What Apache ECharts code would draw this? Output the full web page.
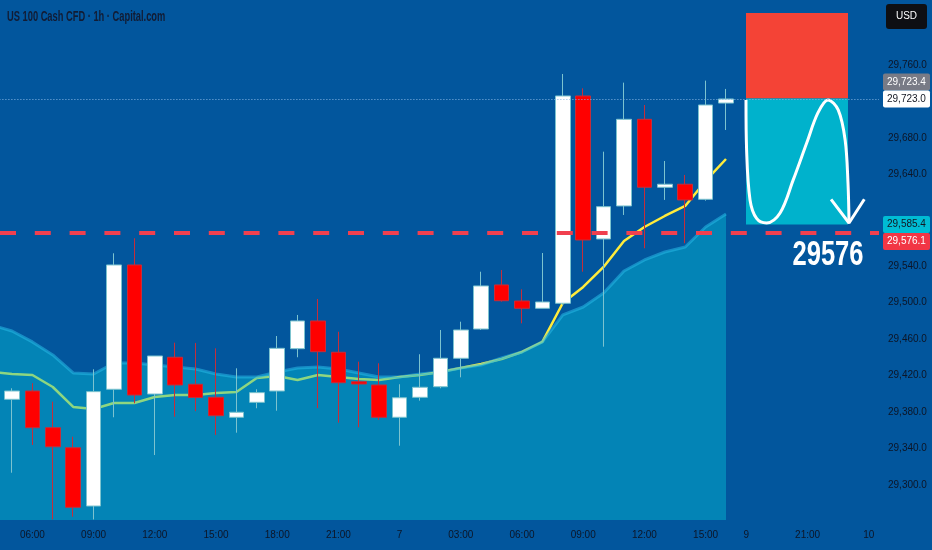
<!DOCTYPE html>
<html>
<head>
<meta charset="utf-8">
<script src="https://cdn.jsdelivr.net/npm/echarts@6.0.0/dist/echarts.min.js"></script>
<style>
  html, body { margin: 0; padding: 0; background: #02569d; }
  #main { width: 932px; height: 550px; }
</style>
</head>
<body>
<div id="main"></div>
<script>
// 每根 K 线 = 1 小时，周末之后从 9 日 18:00 继续
const categories = [
  '6 04:00', '6 05:00', '6 06:00', '6 07:00', '6 08:00', '6 09:00', '6 10:00', '6 11:00',
  '6 12:00', '6 13:00', '6 14:00', '6 15:00', '6 16:00', '6 17:00', '6 18:00', '6 19:00',
  '6 20:00', '6 21:00', '6 22:00', '6 23:00', '7 00:00', '7 01:00', '7 02:00', '7 03:00',
  '7 04:00', '7 05:00', '7 06:00', '7 07:00', '7 08:00', '7 09:00', '7 10:00', '7 11:00',
  '7 12:00', '7 13:00', '7 14:00', '7 15:00', '7 16:00', '9 18:00', '9 19:00', '9 20:00',
  '9 21:00', '9 22:00', '9 23:00', '10 00:00'
];
const tickLabels = [
  '', '', '06:00', '', '', '09:00', '', '', '12:00', '', '', '15:00', '', '', '18:00', '',
  '', '21:00', '', '', '7', '', '', '03:00', '', '', '06:00', '', '', '09:00', '', '',
  '12:00', '', '', '15:00', '', '9', '', '', '21:00', '', '', '10'
];

const opens = [null,
  29393.7, 29402.8, 29362.6, 29340.6, 29276.7, 29404.7, 29541.0, 29399.5, 29439.8, 29410.2,
  29395.9, 29374.0, 29390.4, 29402.8, 29449.2, 29479.6, 29445.3, 29413.0, 29409.4, 29374.0,
  29395.9, 29407.5, 29438.7, 29470.8, 29519.1, 29501.5, 29493.5, 29499.0, 29726.3, 29569.5,
  29605.7, 29700.7, 29626.2, 29629.5, 29613.0, 29718.5];
const closes = [null,
  29402.8, 29362.6, 29341.7, 29275.3, 29402.1, 29541.0, 29398.4, 29441.2, 29409.4, 29395.7,
  29375.7, 29379.5, 29401.0, 29449.6, 29479.6, 29445.9, 29411.9, 29410.5, 29374.0, 29395.4,
  29406.9, 29438.7, 29469.7, 29518.0, 29501.8, 29493.5, 29500.4, 29726.3, 29568.4, 29604.9,
  29700.7, 29626.2, 29629.5, 29612.3, 29716.4, 29723.0];
const lows = [null,
  29313.2, 29343.6, 29262.0, 29265.0, 29262.0, 29374.0, 29389.3, 29332.6, 29374.6, 29380.7,
  29354.6, 29357.1, 29383.9, 29381.2, 29439.8, 29383.9, 29368.1, 29363.0, 29371.0, 29342.8,
  29392.2, 29405.8, 29417.8, 29469.7, 29500.7, 29477.0, 29493.5, 29497.0, 29533.6, 29451.4,
  29595.8, 29559.3, 29612.3, 29564.8, 29611.5, 29689.0];
const highs = [null,
  29405.8, 29411.3, 29391.1, 29352.7, 29426.6, 29553.8, 29570.3, 29441.2, 29455.8, 29455.5,
  29449.6, 29427.7, 29404.7, 29463.1, 29486.2, 29503.7, 29467.8, 29435.0, 29433.2, 29410.2,
  29443.1, 29469.7, 29478.8, 29533.6, 29535.5, 29514.3, 29554.1, 29750.4, 29734.7, 29665.2,
  29740.9, 29716.4, 29655.0, 29639.7, 29743.1, 29734.0];

// 均线（黄色）与下方的区域指标
const maValues = [
  29423.7, 29421.5, 29420.4, 29407.2, 29385.3, 29383.1, 29389.7, 29389.7, 29396.2, 29398.4,
  29398.4, 29400.6, 29401.7, 29417.1, 29419.3, 29414.9, 29420.4, 29418.2, 29416.0, 29414.9,
  29418.2, 29420.4, 29423.7, 29428.0, 29432.4, 29437.9, 29445.6, 29456.6, 29499.3, 29516.9,
  29538.8, 29567.3, 29582.6, 29594.7, 29605.7, 29633.1, 29657.2];
const bandValues = [
  29475.2, 29468.6, 29456.6, 29442.3, 29422.6, 29421.5, 29433.5, 29433.5, 29431.3, 29429.1,
  29426.9, 29421.5, 29418.2, 29418.2, 29423.7, 29428.0, 29429.1, 29426.9, 29422.6, 29418.2,
  29418.2, 29421.5, 29423.7, 29428.0, 29431.3, 29439.0, 29445.6, 29456.6, 29486.2, 29494.9,
  29510.3, 29534.4, 29546.5, 29555.2, 29560.7, 29582.6, 29596.9];
const bandFloor = 29261.4;

const yTickLabels = [29300, 29340, 29380, 29420, 29460, 29500, 29540, 29640, 29680, 29760];
const yMin = 29260, yMax = 29820;

const lastPrice = 29723.0;
const markPrice = 29723.4;
const dashedLevel = 29576.1;

// 空单工具：止损 / 入场 / 目标
const stopPrice = 29817.3, entryPrice = 29723.4, targetPrice = 29585.4;
const toolStart = 36.98, toolEnd = 41.98;
const curvePoints = [
  [36.98, 29722], [37.01, 29667], [37.18, 29612], [37.5, 29592], [37.99, 29587],
  [38.65, 29598], [39.29, 29634], [39.96, 29675], [40.51, 29708], [41.0, 29722],
  [41.5, 29711], [41.84, 29678], [41.98, 29631], [42.03, 29588]
];
const arrowPoints = [[41.15, 29613], [42.03, 29587], [42.78, 29613]];
const bigLabel = '29576';
const bigLabelAt = [41.0, 29552];

const fontFam = "'Liberation Sans', Arial, sans-serif";

function fmt(v) {
  const s = v.toFixed(1).split('.');
  return s[0].replace(/\B(?=(\d{3})+(?!\d))/g, ',') + '.' + s[1];
}

var myChart = echarts.init(document.getElementById('main'));

const candleData = categories.map((c, i) =>
  opens[i] == null ? '-' : [opens[i], closes[i], lows[i], highs[i]]);

myChart.setOption({
  animation: false,
  backgroundColor: '#02569d',
  grid: {
    left: -18.6, right: 53, top: 10.5, bottom: 28.75,
    containLabel: false,
    outerBoundsMode: 'none'
  },
  xAxis: [
    {
      type: 'category',
      data: categories,
      boundaryGap: true,
      axisLine: { show: false },
      axisTick: { show: false },
      splitLine: { show: false },
      axisLabel: {
        interval: 0,
        margin: 9,
        color: '#0d1526',
        fontSize: 10,
        fontFamily: fontFam,
        formatter: (v, i) => tickLabels[i]
      }
    },
    { type: 'value', min: -0.5, max: 43.5, show: false }
  ],
  yAxis: {
    type: 'value',
    position: 'right',
    min: yMin,
    max: yMax,
    interval: 20,
    splitLine: { show: false },
    axisTick: { show: false },
    axisLine: { show: true, lineStyle: { color: 'rgba(255,255,255,0.07)' } },
    axisLabel: {
      margin: 9,
      color: '#0d1526',
      fontSize: 10,
      fontFamily: fontFam,
      formatter: v => (yTickLabels.indexOf(v) >= 0 ? fmt(v) : '')
    }
  },
  series: [
    {
      name: 'MA',
      type: 'line',
      z: 1,
      data: maValues,
      showSymbol: false,
      lineStyle: { color: '#ffeb3b', width: 2.5 },
      markLine: {
        silent: true,
        symbol: ['none', 'none'],
        label: { show: false },
        data: [
          { yAxis: dashedLevel, lineStyle: { color: '#f0404f', type: [16, 18.8], dashOffset: 16.2, width: 4 } },
          { yAxis: lastPrice, lineStyle: { color: '#86b6e4', type: [1, 2], width: 1 } }
        ]
      }
    },
    {
      name: 'Band',
      type: 'line',
      z: 2,
      data: bandValues,
      showSymbol: false,
      lineStyle: { color: 'rgba(40,185,230,0.55)', width: 3 },
      areaStyle: { color: 'rgba(4,188,213,0.45)', origin: bandFloor, opacity: 1 }
    },
    {
      name: 'US100',
      type: 'candlestick',
      z: 3,
      data: candleData,
      barWidth: 15,
      itemStyle: {
        color: '#ffffff',
        color0: '#ff0000',
        borderColor: '#7cc3cf',
        borderColor0: '#c62d3a',
        borderWidth: 1
      }
    },
    {
      name: 'Tool',
      type: 'line',
      z: 4,
      xAxisIndex: 1,
      data: curvePoints,
      smooth: 0.35,
      showSymbol: false,
      lineStyle: { color: '#ffffff', width: 3 },
      markArea: {
        silent: true,
        data: [
          [{ xAxis: toolStart, yAxis: stopPrice, itemStyle: { color: '#f44336', opacity: 1 } },
           { xAxis: toolEnd, yAxis: entryPrice }],
          [{ xAxis: toolStart, yAxis: entryPrice, itemStyle: { color: '#00b2cc', opacity: 1 } },
           { xAxis: toolEnd, yAxis: targetPrice }]
        ]
      }
    },
    {
      name: 'Arrow',
      type: 'line',
      z: 4,
      xAxisIndex: 1,
      data: arrowPoints,
      showSymbol: false,
      lineStyle: { color: '#ffffff', width: 3 }
    }
  ]
});

// 右侧价格标签（避免重叠时上下挪开）
const tagH = 17;
const tags = [
  { price: markPrice, fill: '#787b86', color: '#ffffff', fixed: false },
  { price: lastPrice, fill: '#ffffff', color: '#131722', fixed: true },
  { price: targetPrice, fill: '#00bcd4', color: '#131722', fixed: true },
  { price: dashedLevel, fill: '#f23645', color: '#ffffff', fixed: false }
];
tags.forEach(t => { t.y = myChart.convertToPixel({ yAxisIndex: 0 }, t.price); });
for (let i = 1; i < tags.length; i++) {
  const a = tags[i - 1], b = tags[i];
  if (b.y - a.y < tagH) {
    if (!a.fixed) a.y = b.y - tagH;
    else b.y = a.y + tagH;
  }
}
const labelPos = myChart.convertToPixel({ xAxisIndex: 1, yAxisIndex: 0 }, bigLabelAt);

const graphics = [
  {
    type: 'text', x: 7, y: 17, scaleX: 0.665,
    style: {
      text: 'US 100 Cash CFD · 1h · Capital.com', fill: '#121c34',
      font: 'bold 14px ' + fontFam, verticalAlign: 'middle'
    }
  },
  {
    type: 'text', x: labelPos[0], y: labelPos[1], scaleX: 0.73, z: 10,
    style: {
      text: bigLabel, fill: '#ffffff', font: 'bold 35px ' + fontFam,
      align: 'center', verticalAlign: 'middle'
    }
  },
  {
    type: 'rect', shape: { x: 886, y: 4, width: 41, height: 25, r: 3 },
    style: { fill: '#0e0f13' }
  },
  {
    type: 'text', x: 906.5, y: 16.5,
    style: { text: 'USD', fill: '#ffffff', font: '10px ' + fontFam, align: 'center', verticalAlign: 'middle' }
  }
];
tags.forEach(t => {
  graphics.push({
    type: 'rect', shape: { x: 883, y: t.y - tagH / 2, width: 47, height: tagH, r: 2 },
    style: { fill: t.fill }
  });
  graphics.push({
    type: 'text', x: 887, y: t.y,
    style: { text: fmt(t.price), fill: t.color, font: '10px ' + fontFam, verticalAlign: 'middle' }
  });
});
myChart.setOption({ graphic: graphics });
</script>
</body>
</html>
